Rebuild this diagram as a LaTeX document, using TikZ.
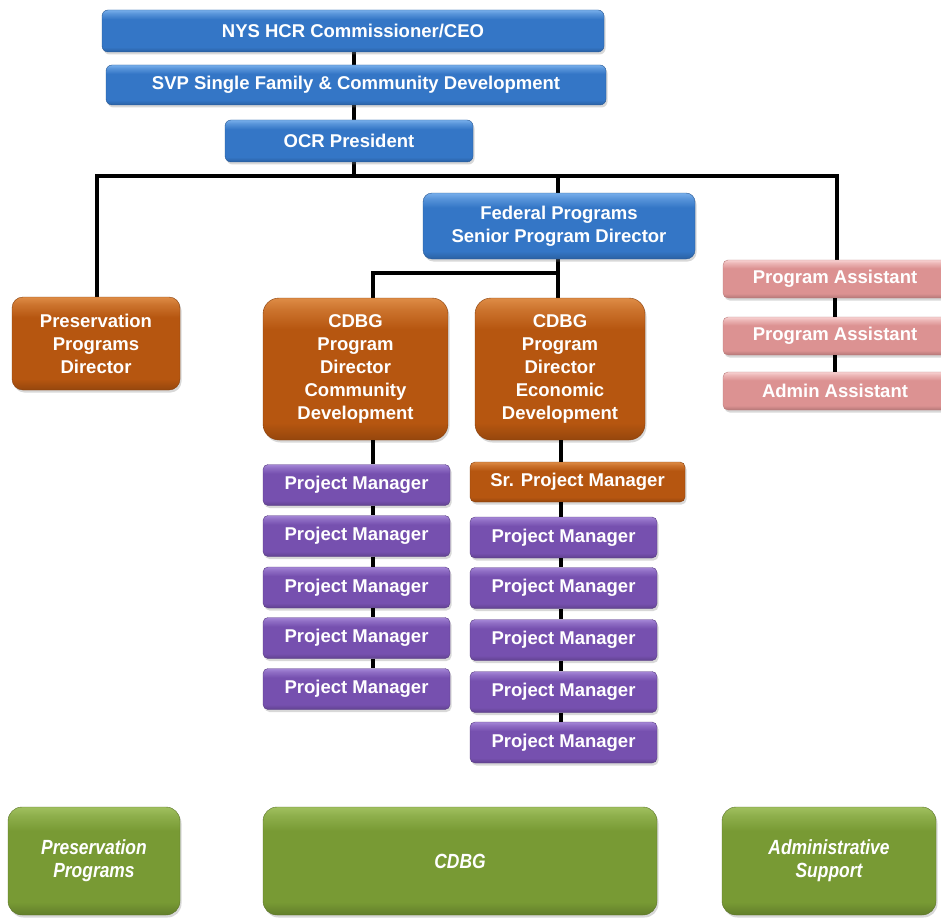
\documentclass[tikz,border=0pt]{standalone}
\usepackage{fontspec}
\setmainfont{Liberation Sans}
\newfontfamily\narrowfont[FakeStretch=0.85]{Liberation Sans}
\usetikzlibrary{shadows,calc}
\definecolor{blueA}{RGB}{120,175,235}
\definecolor{blueB}{RGB}{52,118,198}
\definecolor{brownA}{RGB}{222,140,70}
\definecolor{brownB}{RGB}{182,86,16}
\definecolor{purpleA}{RGB}{165,135,215}
\definecolor{purpleB}{RGB}{118,80,175}
\definecolor{pinkA}{RGB}{248,210,210}
\definecolor{pinkB}{RGB}{220,146,146}
\definecolor{greenA}{RGB}{160,192,95}
\definecolor{greenB}{RGB}{120,154,52}
\newcommand{\mkshade}[3]{%
  \pgfdeclareverticalshading{#1}{100bp}{%
    color(0bp)=(#3!82!black); color(25bp)=(#3!82!black); color(31bp)=(#3);
    color(64bp)=(#3); color(71bp)=(#2!55!#3); color(75bp)=(#2); color(100bp)=(#2)}}
\mkshade{shBlue}{blueA}{blueB}
\mkshade{shBrown}{brownA}{brownB}
\mkshade{shPurple}{purpleA}{purpleB}
\mkshade{shPink}{pinkA}{pinkB}
\mkshade{shGreen}{greenA}{greenB}
\tikzset{
  box/.style={text=white, align=center, inner sep=0pt,
    font=\bfseries\fontsize{18.5}{23}\selectfont,
    drop shadow={shadow xshift=1.5pt, shadow yshift=-2.5pt, opacity=0.3}},
  bluebox/.style={box, rounded corners=6pt, shading=shBlue, draw=blueB!75!black, line width=0.4pt},
  brownbox/.style={box, shading=shBrown, draw=brownB!75!black, line width=0.4pt},
  purplebox/.style={box, rounded corners=5pt, shading=shPurple, draw=purpleB!75!black, line width=0.4pt},
  pinkbox/.style={box, rounded corners=5pt, shading=shPink, draw=pinkB!85!black, line width=0.4pt},
  greenbox/.style={box, rounded corners=14pt, shading=shGreen, draw=greenB!75!black, line width=0.4pt,
    font=\narrowfont\bfseries\itshape\fontsize{20.5}{23}\selectfont},
  pm/.style={purplebox, minimum width=187pt, minimum height=41pt},
  pa/.style={pinkbox, minimum width=224pt, minimum height=38pt},
  conn/.style={line width=4.5pt, black},
  thin conn/.style={line width=4pt, black}
}
\begin{document}
\begin{tikzpicture}[x=1pt,y=-1pt]
\useasboundingbox[fill=white] (0,0) rectangle (941,920);
% helper coordinates
\coordinate (bus) at (0,176);
\coordinate (fbus) at (0,273);
\coordinate (lx) at (373,0);
\coordinate (rx) at (561,0);
% connectors (drawn first, behind boxes)
\coordinate (ceoS) at (354,52);
\coordinate (svpN) at (354,65);
\coordinate (svpS) at (354,105);
\coordinate (ocrN) at (354,120);
\coordinate (ocrS) at (354,162);
\draw[conn] (ceoS) -- (svpN);
\draw[conn] (svpS) -- (ocrN);
\draw[conn] (ocrS) -- (ocrS |- bus);
\draw[conn] (97,297) coordinate (ppdN) |- (bus -| 837,0) coordinate (busR) -- (837,260) coordinate (paN);
\draw[conn] (558,176) coordinate (fedN) -- (558,194);
\draw[conn] (558,258) coordinate (fedS) -- (558,298) coordinate (cdeN);
\draw[conn] (fedS |- fbus) -| (lx |- 0,298);
% top blue boxes
\node[bluebox, minimum width=502pt, minimum height=42pt] (ceo) at (353,31) {NYS HCR Commissioner/CEO};
\node[bluebox, minimum width=500pt, minimum height=40pt] (svp) at (356,85) {SVP Single Family \& Community Development};
\node[bluebox, minimum width=248pt, minimum height=42pt] (ocr) at (349,141) {OCR President};
\node[bluebox, rounded corners=9pt, minimum width=272pt, minimum height=66pt] (fed) at (559,226) {Federal Programs\\Senior Program Director};
% directors
\node[brownbox, rounded corners=11pt, minimum width=168pt, minimum height=93pt] (ppd) at (96,343.5) {Preservation\\Programs\\Director};
\node[brownbox, rounded corners=16pt, minimum width=185pt, minimum height=142pt] (cdc) at (355.5,369) {CDBG\\Program\\Director\\Community\\Development};
\node[brownbox, rounded corners=16pt, minimum width=170pt, minimum height=142pt] (cde) at (560,369) {CDBG\\Program\\Director\\Economic\\Development};
% assistants
\node[pa] (pa1) at (835,279) {Program Assistant};
\node[pa] (pa2) at (835,336) {Program Assistant};
\node[pa] (pa3) at (835,391) {Admin Assistant};
% left project managers
\node[pm] (l1) at (356.5,485) {Project Manager};
\node[pm] (l2) at (356.5,536) {Project Manager};
\node[pm] (l3) at (356.5,587.5) {Project Manager};
\node[pm] (l4) at (356.5,638) {Project Manager};
\node[pm] (l5) at (356.5,689) {Project Manager};
% right column
\node[brownbox, rounded corners=5pt, minimum width=215pt, minimum height=40pt] (spm) at (577.5,482) {Sr. Project Manager};
\node[pm] (r1) at (563.5,537.5) {Project Manager};
\node[pm] (r2) at (563.5,588) {Project Manager};
\node[pm] (r3) at (563.5,640) {Project Manager};
\node[pm] (r4) at (563.5,692) {Project Manager};
\node[pm] (r5) at (563.5,742.5) {Project Manager};
% short connectors between stacked boxes
\draw[thin conn] (lx |- cdc.south) -- (lx |- l1.north);
\draw[thin conn] (lx |- l1.south) -- (lx |- l2.north);
\draw[thin conn] (lx |- l2.south) -- (lx |- l3.north);
\draw[thin conn] (lx |- l3.south) -- (lx |- l4.north);
\draw[thin conn] (lx |- l4.south) -- (lx |- l5.north);
\draw[thin conn] (rx |- cde.south) -- (rx |- spm.north);
\draw[thin conn] (rx |- spm.south) -- (rx |- r1.north);
\draw[thin conn] (rx |- r1.south) -- (rx |- r2.north);
\draw[thin conn] (rx |- r2.south) -- (rx |- r3.north);
\draw[thin conn] (rx |- r3.south) -- (rx |- r4.north);
\draw[thin conn] (rx |- r4.south) -- (rx |- r5.north);
\draw[thin conn] (pa1.south) -- (pa2.north);
\draw[thin conn] (pa2.south) -- (pa3.north);
% green group boxes
\node[greenbox, minimum width=172pt, minimum height=108pt] (gpp) at (94,861) {Preservation\\Programs};
\node[greenbox, minimum width=394pt, minimum height=108pt] (gcd) at (460,861) {CDBG};
\node[greenbox, minimum width=214pt, minimum height=108pt] (gad) at (829,861) {Administrative\\Support};
\end{tikzpicture}
\end{document}
